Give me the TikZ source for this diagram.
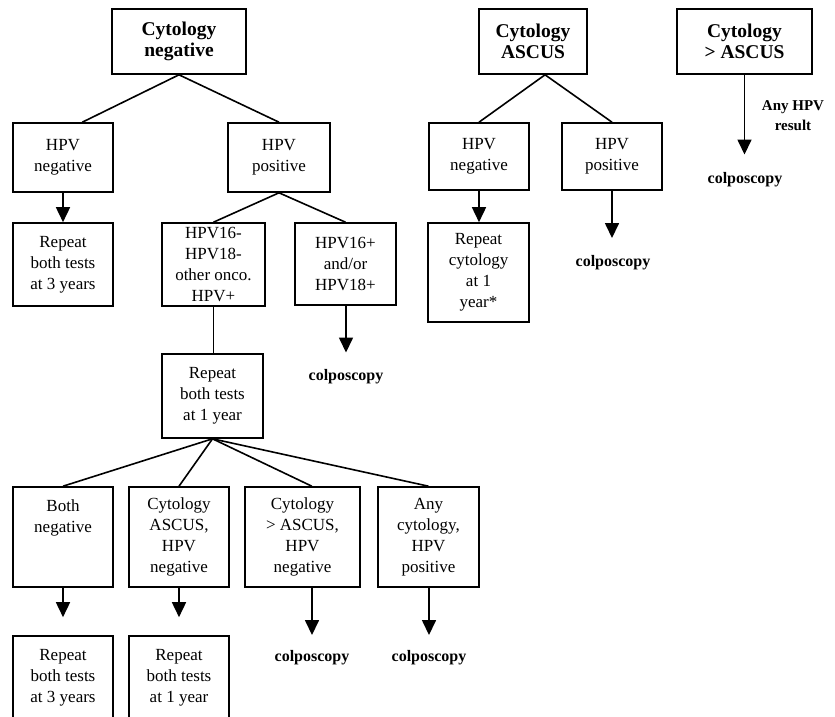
\documentclass[tikz,border=0pt]{standalone}
\usepackage{fontspec}
\setmainfont{Liberation Serif}
\usetikzlibrary{arrows.meta, calc}

\begin{document}
\begin{tikzpicture}[
    x=1pt, y=-1pt,
    box/.style={draw, line width=1.6pt, inner sep=0pt, align=center,
        font=\fontsize{17}{21}\selectfont},
    head/.style={box, font=\bfseries\fontsize{19.5}{21.5}\selectfont},
    outcome/.style={inner sep=0pt, font=\bfseries\fontsize{16}{20}\selectfont},
    note/.style={inner sep=0pt, align=center, font=\bfseries\fontsize{15}{20}\selectfont},
    link/.style={line width=1.6pt},
    arr/.style={link, -{Triangle[length=15pt, width=14pt]}},
]

\clip (0,0) rectangle (835,717);

% cytology negative branch
\node[head, minimum width=134pt, minimum height=65pt] (cytneg) at (179, 41.5)
    {Cytology\\negative};
\node[box, minimum width=100pt, minimum height=69pt] (hpvneg) at (63, 157.5)
    {HPV\\negative};
\node[box, minimum width=102pt, minimum height=69pt] (hpvpos) at (279, 157.5)
    {HPV\\positive};
\node[box, minimum width=100pt, minimum height=83pt] (rep3) at (63, 264.5)
    {Repeat\\both tests\\at 3 years};
\node[box, minimum width=103pt, minimum height=83pt] (hpvoth) at (213.5, 264.5)
    {HPV16-\\HPV18-\\other onco.\\HPV+};
\node[box, minimum width=101pt, minimum height=82pt] (hpvhi) at (345.5, 264)
    {HPV16+\\and/or\\HPV18+};
\node[outcome] (colpohi) at (346, 377) {colposcopy};

\draw[link] (cytneg.south) -- ($(hpvneg.north west)!0.69!(hpvneg.north east)$);
\draw[link] (cytneg.south) -- (hpvpos.north);
\draw[arr] (hpvneg.south) -- (rep3.north);
\draw[link] (hpvpos.south) -- (hpvoth.north);
\draw[link] (hpvpos.south) -- (hpvhi.north);
\draw[arr, shorten >=17pt] (colpohi.north |- hpvhi.south) -- (colpohi.north);

% follow-up after one year
\node[box, minimum width=101pt, minimum height=84pt] (rep1) at (212.5, 396)
    {Repeat\\both tests\\at 1 year};
\node[box, minimum width=100pt, minimum height=100pt] (bothneg) at (63, 537)
    {Both\\negative\\\mbox{}\\\mbox{}};
\node[box, minimum width=100pt, minimum height=100pt] (ascneg) at (179, 537)
    {Cytology\\ASCUS,\\HPV\\negative};
\node[box, minimum width=115pt, minimum height=100pt] (gtneg) at (302.5, 537)
    {Cytology\\> ASCUS,\\HPV\\negative};
\node[box, minimum width=101pt, minimum height=100pt] (anypos) at (428.5, 537)
    {Any\\cytology,\\HPV\\positive};
\node[box, minimum width=100pt, minimum height=83pt] (rep3b) at (63, 677.5)
    {Repeat\\both tests\\at 3 years};
\node[box, minimum width=100pt, minimum height=83pt] (rep1b) at (179, 677.5)
    {Repeat\\both tests\\at 1 year};
\node[outcome] (colpogt) at (312, 657.5) {colposcopy};
\node[outcome] (colpoany) at (429, 657.5) {colposcopy};

\draw[link] (hpvoth.south) -- (hpvoth.south |- rep1.north);
\draw[link] (rep1.south) -- (bothneg.north);
\draw[link] (rep1.south) -- (ascneg.north);
\draw[link] (rep1.south) -- ($(gtneg.north west)!0.58!(gtneg.north east)$);
\draw[link] (rep1.south) -- (anypos.north);
\draw[arr, shorten >=18pt] (bothneg.south) -- (rep3b.north);
\draw[arr, shorten >=18pt] (ascneg.south) -- (rep1b.north);
\draw[arr, shorten >=15pt] (colpogt.north |- gtneg.south) -- (colpogt.north);
\draw[arr, shorten >=15pt] (colpoany.north |- anypos.south) -- (colpoany.north);

% cytology ASCUS branch
\node[head, minimum width=108pt, minimum height=65pt] (cytasc) at (533, 41.5)
    {Cytology\\ASCUS};
\node[box, minimum width=100pt, minimum height=67pt] (aschpvneg) at (479, 156.5)
    {HPV\\negative};
\node[box, minimum width=100pt, minimum height=67pt] (aschpvpos) at (612, 156.5)
    {HPV\\positive};
\node[box, minimum width=101pt, minimum height=99pt] (repcyt) at (478.5, 272.5)
    {Repeat\\cytology\\at 1\\year*};
\node[outcome] (colpoasc) at (613, 262.5) {colposcopy};

\draw[link] ($(cytasc.south west)!0.61!(cytasc.south east)$) -- (aschpvneg.north);
\draw[link] ($(cytasc.south west)!0.61!(cytasc.south east)$) -- (aschpvpos.north);
\draw[arr] (aschpvneg.south) -- (aschpvneg.south |- repcyt.north);
\draw[arr, shorten >=17pt] (aschpvpos.south) -- (aschpvpos.south |- colpoasc.north);

% cytology worse than ASCUS
\node[head, minimum width=135pt, minimum height=65pt] (cytgt) at (744.5, 41.5)
    {Cytology\\> ASCUS};
\node[outcome] (colpocyt) at (745, 180) {colposcopy};
\draw[arr, shorten >=18pt] (cytgt.south) -- (cytgt.south |- colpocyt.north);
\node[note] (anyhpv) at (793, 116) {Any HPV\\result};

\end{tikzpicture}
\end{document}
